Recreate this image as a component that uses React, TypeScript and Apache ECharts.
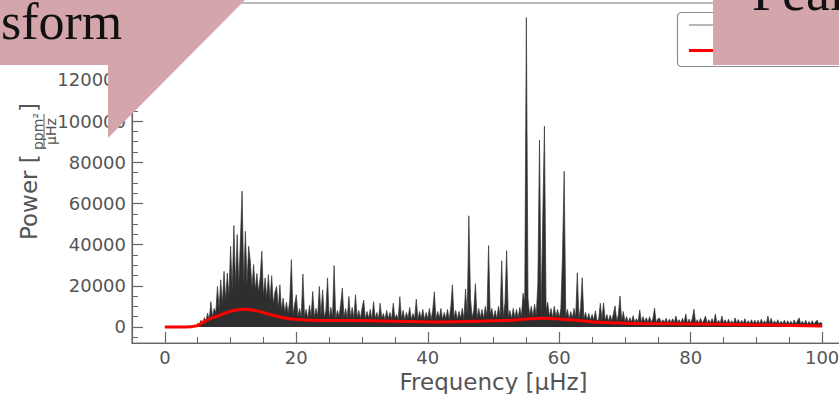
import React, { useEffect, useRef } from 'react';
import * as echarts from 'echarts';

const freqStep = 0.25;
const power0to10 = [100, 50, 150, 60, 120, 40, 200, 80, 150, 60, 250, 90, 200, 120, 400, 150, 500, 200, 900, 300, 1800, 900, 3200, 1500, 4500, 2500, 6700, 3500, 12300, 5000, 9000, 7000, 19700, 9000, 22900, 11000, 27000, 13000, 26200, 15000];
const power10to20 = [39200, 18000, 49300, 20000, 44900, 20000, 42800, 66000, 21000, 46500, 21000, 39200, 31900, 19000, 30300, 18000, 26000, 17000, 24000, 36800, 15000, 23800, 14000, 25400, 13000, 24900, 11000, 17000, 19700, 9000, 20500, 8000, 14000, 7000, 12000, 6500, 13000, 32700, 6000, 11000];
const power20to30 = [15600, 5000, 9000, 4500, 25700, 5000, 8500, 4000, 10500, 5000, 17200, 4500, 9000, 5000, 19700, 5500, 18000, 4500, 8000, 23800, 4000, 9500, 4500, 29800, 4000, 8000, 5000, 11000, 18900, 4500, 9000, 4000, 14800, 4500, 9500, 4000, 15600, 4500, 8000, 4000];
const power30to40 = [9000, 13100, 3800, 7500, 4200, 8500, 3500, 12300, 4000, 7000, 3600, 11500, 4200, 6500, 3500, 8000, 4000, 7000, 3600, 11500, 4200, 6000, 3500, 14700, 4000, 8000, 3400, 7000, 4200, 9500, 3600, 6500, 4000, 13500, 3500, 7500, 4200, 8500, 3600, 7000];
const power40to50 = [4000, 9000, 3500, 8000, 17100, 3500, 7500, 4200, 9000, 3600, 7000, 4000, 8500, 3500, 9500, 20500, 4200, 8000, 3600, 7500, 4200, 9000, 3800, 18400, 5000, 54000, 14000, 4500, 8000, 21000, 4000, 9000, 4500, 8500, 4000, 10000, 5000, 39500, 6000, 9000];
const power50to60 = [4200, 8000, 4000, 10000, 5000, 32200, 4500, 12000, 37100, 5000, 8000, 4000, 9000, 4500, 8500, 4200, 9500, 5000, 16400, 12000, 150300, 14000, 5500, 10000, 5000, 11000, 5500, 21400, 90800, 7000, 53700, 97600, 8000, 12000, 5000, 9000, 4500, 10000, 5000, 8500];
const power60to70 = [4500, 9000, 35000, 75600, 5000, 8500, 3800, 7500, 4200, 9000, 4500, 26300, 4000, 9500, 23900, 3800, 7000, 3500, 6500, 3200, 6000, 3400, 7800, 3000, 3600, 11500, 3500, 11700, 3000, 6000, 2800, 5800, 3000, 6500, 10200, 2800, 6000, 15000, 3000, 7500];
const power70to80 = [2500, 5000, 2200, 4500, 2400, 5500, 2100, 4000, 2400, 8300, 2200, 5000, 2400, 4500, 2100, 5000, 2300, 4000, 9100, 2100, 3800, 4400, 2000, 3500, 2200, 4200, 1900, 3800, 2100, 4000, 2000, 5300, 2100, 3500, 1900, 4200, 2000, 6300, 1900, 3800];
const power80to90 = [2000, 4000, 8600, 1900, 3500, 1800, 4200, 1900, 3200, 5300, 1800, 3500, 1900, 4000, 1700, 6300, 1800, 3200, 1700, 5300, 1800, 3500, 1600, 3800, 1700, 3000, 1600, 4400, 1700, 3600, 1600, 3200, 1700, 4000, 1500, 3000, 1600, 3500, 1500, 3300];
const power90to100 = [1600, 3200, 1500, 3800, 1500, 3000, 1400, 5300, 1500, 4200, 1400, 3000, 1500, 3500, 1400, 2800, 1400, 3300, 1300, 3000, 1400, 2800, 1300, 3400, 1400, 3000, 4400, 1300, 2800, 1300, 3200, 1200, 2600, 1300, 3000, 1200, 2500, 3300, 1200, 2400, 1500];

// Smooth background fit (red)
const bgFreq = [0, 2, 4, 5, 5.7, 7, 8, 10, 12, 14, 16.2, 18, 19.7, 22, 28, 35, 42, 49, 53, 57.4, 60, 63, 66, 70, 77, 84, 92, 100];
const bgPower = [0, 0, 150, 600, 2100, 4200, 5200, 7600, 8600, 7800, 5900, 4500, 3750, 3300, 3100, 2800, 2400, 2900, 3300, 4200, 3900, 3100, 2300, 1800, 1500, 1300, 900, 500];

// Ticks
const xMajor = [0, 20, 40, 60, 80, 100];
const xMinor = [5, 10, 15, 25, 30, 35, 45, 50, 55, 65, 70, 75, 85, 90, 95];
const yMajor = [0, 20000, 40000, 60000, 80000, 100000, 120000, 140000];
const yLabels = [0, 20000, 40000, 60000, 80000, 100000, 120000];
const yMinor = [-5000, 5000, 10000, 15000, 25000, 30000, 35000, 45000, 50000, 55000, 65000, 70000, 75000, 85000, 90000, 95000, 105000, 110000, 115000, 125000, 130000, 135000, 145000, 150000, 155000];

const seriesNames = ['Power spectrum', 'Background fit'];

const power = [
  ...power0to10, ...power10to20, ...power20to30, ...power30to40, ...power40to50,
  ...power50to60, ...power60to70, ...power70to80, ...power80to90, ...power90to100,
];

export default function App() {
  const ref = useRef<HTMLDivElement>(null);
  useEffect(() => {
    if (!ref.current) return;
    const chart = echarts.init(ref.current, undefined, { renderer: 'svg' });
    const axisColor = '#666';
    const textColor = '#555';
    const font = 'DejaVu Sans';
    const X_MIN = -5, X_MAX = 105, Y_MIN = -7800, Y_MAX = 157400;
    const specData = power.map((p, i) => [i * freqStep, p]);
    const bgData = bgFreq.map((f, i) => [f, bgPower[i]]);
    const pink = '#d4a5aa';
    chart.setOption({
      animation: false,
      backgroundColor: '#fff',
      grid: {
        left: 132, top: 3, width: 723, height: 340, show: true,
        borderColor: '#777', borderWidth: 1.2, outerBoundsMode: 'none', containLabel: false,
      },
      xAxis: [
        {
          type: 'value', min: X_MIN, max: X_MAX, position: 'bottom',
          axisLine: { show: true, onZero: false, lineStyle: { color: axisColor, width: 1.2 } },
          axisTick: { show: true, inside: true, length: 11, customValues: xMajor, lineStyle: { color: axisColor, width: 1.2 } },
          axisLabel: { customValues: xMajor, fontSize: 18, color: textColor, fontFamily: font, margin: 5, formatter: (v: number) => String(v) },
          splitLine: { show: false },
          name: 'Frequency [μHz]', nameLocation: 'middle', nameGap: 18,
          nameTextStyle: { fontSize: 23, color: textColor, fontFamily: font },
        },
        {
          type: 'value', min: X_MIN, max: X_MAX, position: 'bottom',
          axisLine: { show: false, onZero: false },
          axisTick: { show: true, inside: true, length: 6, customValues: xMinor, lineStyle: { color: axisColor, width: 1 } },
          axisLabel: { show: false },
          splitLine: { show: false },
        },
      ],
      yAxis: [
        {
          type: 'value', min: Y_MIN, max: Y_MAX, position: 'left',
          axisLine: { show: true, onZero: false, lineStyle: { color: axisColor, width: 1.2 } },
          axisTick: { show: true, inside: true, length: 11, customValues: yMajor, lineStyle: { color: axisColor, width: 1.2 } },
          axisLabel: { customValues: yLabels, fontSize: 18, color: textColor, fontFamily: font, margin: 6, formatter: (v: number) => String(v) },
          splitLine: { show: false },
        },
        {
          type: 'value', min: Y_MIN, max: Y_MAX, position: 'left',
          axisLine: { show: false, onZero: false },
          axisTick: { show: true, inside: true, length: 6, customValues: yMinor, lineStyle: { color: axisColor, width: 1 } },
          axisLabel: { show: false },
          splitLine: { show: false },
        },
      ],
      series: [
        {
          name: seriesNames[0], type: 'line', data: specData, xAxisIndex: 0, yAxisIndex: 0,
          symbol: 'none', showSymbol: false, lineStyle: { color: '#333', width: 0.7 },
          areaStyle: { color: '#2e2e2e', opacity: 1 },
          emphasis: { disabled: true }, silent: true, z: 2,
        },
        {
          name: seriesNames[1], type: 'line', data: bgData, xAxisIndex: 0, yAxisIndex: 0,
          symbol: 'none', showSymbol: false, smooth: 0.35, lineStyle: { color: '#ff0000', width: 3 },
          emphasis: { disabled: true }, silent: true, z: 3,
        },
      ],
      graphic: [
        {
          type: 'group', x: 0, y: 242, rotation: Math.PI / 2, z: 10,
          children: [
            { type: 'text', x: 2, y: 28.5, style: { text: 'Power [', fontSize: 23, fontFamily: font, fill: textColor, align: 'left', verticalAlign: 'middle' } },
            { type: 'text', x: 110.5, y: 38, style: { text: 'ppm²', fontSize: 14, fontFamily: font, fill: textColor, align: 'center', verticalAlign: 'middle' } },
            { type: 'line', shape: { x1: 93, y1: 44, x2: 128, y2: 44 }, style: { stroke: textColor, lineWidth: 1 } },
            { type: 'text', x: 110.5, y: 50.5, style: { text: 'μHz', fontSize: 14, fontFamily: font, fill: textColor, align: 'center', verticalAlign: 'middle' } },
            { type: 'text', x: 130, y: 28.5, style: { text: ']', fontSize: 23, fontFamily: font, fill: textColor, align: 'left', verticalAlign: 'middle' } },
          ],
        },
        // legend frame and handles (its labels are hidden under the overlay)
        { type: 'rect', z: 50, shape: { x: 677.5, y: 12.5, width: 170, height: 54, r: 4 }, style: { fill: '#fff', stroke: '#8c8c8c', lineWidth: 1.2 } },
        { type: 'line', z: 51, shape: { x1: 689, y1: 25, x2: 719, y2: 25 }, style: { stroke: '#888', lineWidth: 1.2 } },
        { type: 'line', z: 51, shape: { x1: 689, y1: 50.5, x2: 719, y2: 50.5 }, style: { stroke: '#ff0000', lineWidth: 3 } },
        { type: 'polygon', z: 100, shape: { points: [[0, 0], [245, 0], [108, 138], [108, 65], [0, 65]] }, style: { fill: pink } },
        { type: 'rect', z: 100, shape: { x: 713, y: 0, width: 126, height: 65 }, style: { fill: pink } },
        { type: 'text', z: 101, x: 1, y: 21, style: { text: 'sform', fontSize: 52, lineHeight: 42, fontFamily: 'Liberation Serif', fill: '#111', align: 'left', verticalAlign: 'middle' } },
        { type: 'text', z: 101, x: 752, y: -8, style: { text: 'Peak', fontSize: 54, fontFamily: 'Liberation Serif', fill: '#111', align: 'left', verticalAlign: 'middle' } },
      ],
    });
    return () => chart.dispose();
  }, []);
  return (
    <div style={{ position: 'absolute', left: 0, top: 0, width: 839, height: 394, overflow: 'hidden', background: '#fff' }}>
      <div ref={ref} style={{ width: 839, height: 394 }} />
    </div>
  );
}
